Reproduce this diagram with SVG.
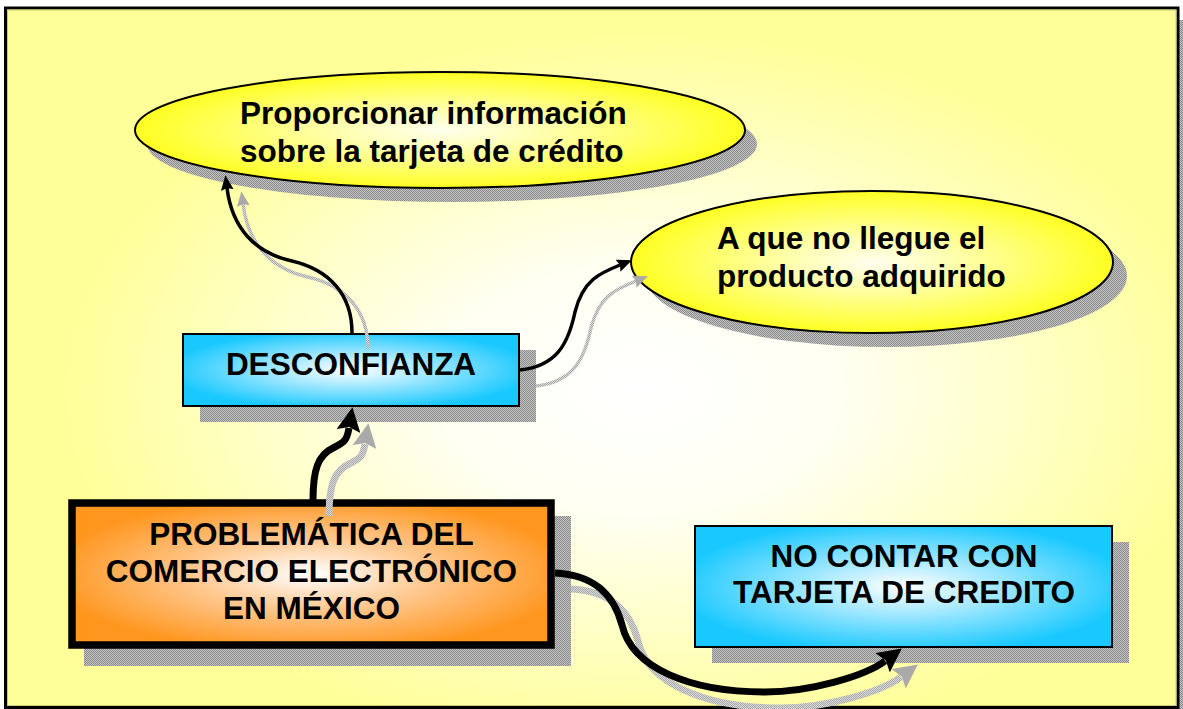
<svg xmlns="http://www.w3.org/2000/svg" width="1183" height="709" viewBox="0 0 1183 709">
<style>
  .t { font-family: "Liberation Sans", Arial, "Noto Sans", sans-serif; font-weight: bold; font-size: 31.5px; fill: #000; }
  .mid { text-anchor: middle; }
  .shadow { fill: url(#dither); stroke: none; }
  .conn { fill: none; stroke: #000; }
  .connS { fill: none; stroke: url(#dither2); }
</style>
<defs>
  <pattern id="dither" width="2" height="2" patternUnits="userSpaceOnUse">
    <rect width="2" height="2" fill="#C4C4C4"/>
    <rect width="1" height="1" fill="#8A8A8A"/>
    <rect x="1" y="1" width="1" height="1" fill="#8A8A8A"/>
  </pattern>
  <pattern id="dither2" width="2" height="2" patternUnits="userSpaceOnUse">
    <rect width="2" height="2" fill="#DADADA"/>
    <rect width="1" height="1" fill="#A8A8A8"/>
    <rect x="1" y="1" width="1" height="1" fill="#A8A8A8"/>
  </pattern>
  <radialGradient id="bg" gradientUnits="userSpaceOnUse" cx="640" cy="390" r="580" gradientTransform="translate(640 390) scale(1 0.62) translate(-640 -390)">
    <stop offset="0" stop-color="#FFFFFF"/>
    <stop offset="0.35" stop-color="#FFFFF2"/>
    <stop offset="1" stop-color="#FFFF99"/>
  </radialGradient>
  <radialGradient id="yel" cx="0.5" cy="0.5" r="0.5">
    <stop offset="0" stop-color="#FFFFF0"/>
    <stop offset="0.45" stop-color="#FFFF99"/>
    <stop offset="1" stop-color="#FFFF22"/>
  </radialGradient>
  <radialGradient id="blue" cx="0.5" cy="0.5" r="0.55">
    <stop offset="0" stop-color="#FFFFFF"/>
    <stop offset="0.5" stop-color="#8EE3FF"/>
    <stop offset="1" stop-color="#18C8FF"/>
  </radialGradient>
  <radialGradient id="orange" cx="0.5" cy="0.5" r="0.55">
    <stop offset="0" stop-color="#FFFFFF"/>
    <stop offset="0.45" stop-color="#FFC890"/>
    <stop offset="1" stop-color="#FF961E"/>
  </radialGradient>
  <marker id="ah" viewBox="0 0 14 12" markerWidth="15" markerHeight="13" refX="2" refY="6" orient="auto" markerUnits="userSpaceOnUse">
    <path d="M0,0 L14,6 L0,12 L2,6 z" fill="#000"/>
  </marker>
  <marker id="ahS" viewBox="0 0 14 12" markerWidth="15" markerHeight="13" refX="2" refY="6" orient="auto" markerUnits="userSpaceOnUse">
    <path d="M0,0 L14,6 L0,12 L2,6 z" fill="#AAAAAA"/>
  </marker>
  <marker id="ahB" viewBox="0 0 24 24" markerWidth="24" markerHeight="24" refX="3" refY="12" orient="auto" markerUnits="userSpaceOnUse">
    <path d="M0,0 L24,12 L0,24 L4,12 z" fill="#000"/>
  </marker>
  <marker id="ahBS" viewBox="0 0 24 24" markerWidth="24" markerHeight="24" refX="3" refY="12" orient="auto" markerUnits="userSpaceOnUse">
    <path d="M0,0 L24,12 L0,24 L4,12 z" fill="#AAAAAA"/>
  </marker>
</defs>

<!-- background frame -->
<g id="frame">
  <rect x="1179" y="20" width="4" height="689" class="shadow"/>
  <rect x="5.5" y="8" width="1172.5" height="699.5" fill="url(#bg)" stroke="#000" stroke-width="3"/>
  <rect x="7.5" y="10" width="1168.5" height="695.5" fill="none" stroke="#C9C97A" stroke-width="1"/>
</g>

<!-- node shadows -->
<g id="shadows">
  <ellipse cx="452" cy="144" rx="305" ry="58" class="shadow"/>
  <ellipse cx="886" cy="276" rx="241" ry="71" class="shadow"/>
  <rect x="200" y="350" width="336" height="72" class="shadow"/>
  <rect x="84" y="516" width="487" height="150" class="shadow"/>
  <rect x="712" y="542" width="417" height="121" class="shadow"/>
</g>

<g id="n-info">
  <ellipse cx="440" cy="130" rx="305" ry="58" fill="url(#yel)" stroke="#000" stroke-width="2"/>
  <text class="t" x="240" y="124">Proporcionar información</text>
  <text class="t" x="240" y="162">sobre la tarjeta de crédito</text>
</g>

<g id="n-producto">
  <ellipse cx="872" cy="262" rx="241" ry="71" fill="url(#yel)" stroke="#000" stroke-width="2"/>
  <text class="t" x="717" y="249">A que no llegue el</text>
  <text class="t" x="717" y="287">producto adquirido</text>
</g>

<g id="n-desconfianza">
  <rect x="183" y="334" width="336" height="72" fill="url(#blue)" stroke="#000" stroke-width="2"/>
  <text class="t mid" x="351" y="375">DESCONFIANZA</text>
</g>

<g id="n-problematica">
  <rect x="72" y="503" width="479" height="142" fill="url(#orange)" stroke="#000" stroke-width="7.5"/>
  <text class="t mid" x="311.5" y="545">PROBLEMÁTICA DEL</text>
  <text class="t mid" x="311.5" y="582">COMERCIO ELECTRÓNICO</text>
  <text class="t mid" x="311.5" y="619">EN MÉXICO</text>
</g>

<g id="n-tarjeta">
  <rect x="695" y="526" width="417" height="121" fill="url(#blue)" stroke="#000" stroke-width="2"/>
  <text class="t mid" x="904" y="567">NO CONTAR CON</text>
  <text class="t mid" x="904" y="603">TARJETA DE CREDITO</text>
</g>

<!-- connectors -->
<g id="connectors">
  <g transform="translate(16 16)">
    <path class="connS" stroke-width="3.5" d="M352,333 C352,295 330,270 292,261 C255,253 232,228 227,188" marker-end="url(#ahS)"/>
    <path class="connS" stroke-width="3.5" d="M520,370 C556,366 568,345 575,312 C583,280 600,273 620,265" marker-end="url(#ahS)"/>
    <path class="connS" stroke-width="7" d="M313,500 C313,470 318,455 333,448 C345,442 347,440 349,428" marker-end="url(#ahBS)"/>
    <path class="connS" stroke-width="7" d="M555,573 C595,575 614,595 622,625 C632,668 690,692 765,692 C810,692 865,676 885,661" marker-end="url(#ahBS)"/>
  </g>
  <path class="conn" stroke-width="3.5" d="M352,333 C352,295 330,270 292,261 C255,253 232,228 227,188" marker-end="url(#ah)"/>
  <path class="conn" stroke-width="3.5" d="M520,370 C556,366 568,345 575,312 C583,280 600,273 620,265" marker-end="url(#ah)"/>
  <path class="conn" stroke-width="7" d="M313,500 C313,470 318,455 333,448 C345,442 347,440 349,428" marker-end="url(#ahB)"/>
  <path class="conn" stroke-width="7" d="M555,573 C595,575 614,595 622,625 C632,668 690,692 765,692 C810,692 865,676 885,661" marker-end="url(#ahB)"/>
</g>
</svg>
